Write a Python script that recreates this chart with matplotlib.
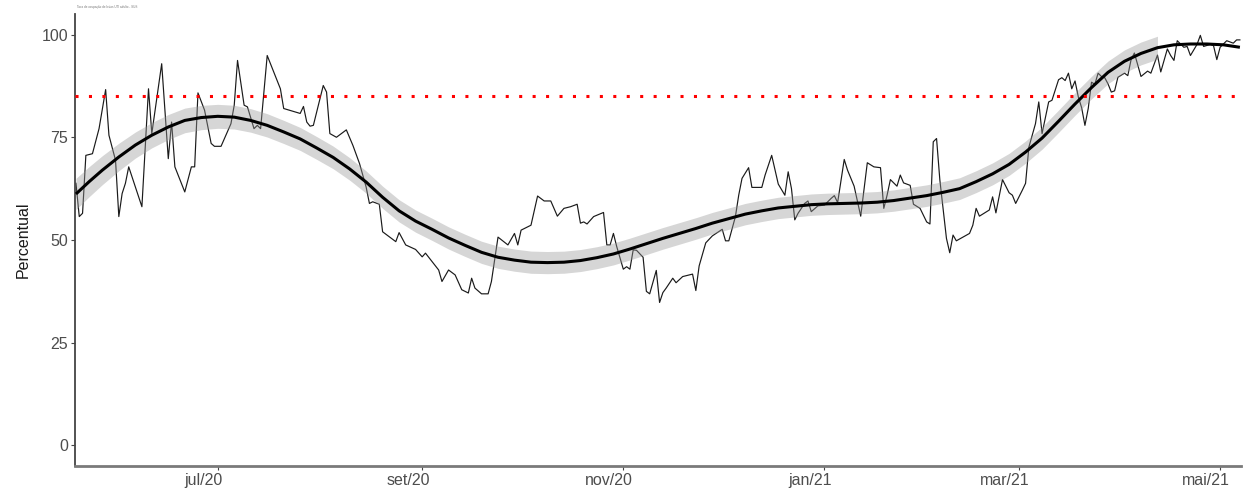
import numpy as np
import matplotlib
matplotlib.use("Agg")
import matplotlib.pyplot as plt
import matplotlib.transforms as mtransforms

# ---- data ----
data_inicio = "2020-05-19"
dia = [0, 1, 2, 3, 5, 7, 9, 10, 12, 13, 14, 15, 16, 20, 22, 23, 26, 28, 29, 30,
       33, 35, 36, 37, 39, 41, 42, 44, 47, 48, 49, 51, 52, 54, 55, 56, 58, 62, 63, 68,
       69, 70, 71, 72, 75, 76, 77, 79, 82, 84, 86, 88, 89, 90, 92, 93, 97, 98, 100, 103,
       105, 106, 110, 111, 113, 115, 117, 119, 120, 121, 123, 125, 126, 128, 131, 133, 134, 135, 138, 140,
       142, 144, 146, 148, 150, 152, 153, 154, 155, 157, 160, 161, 162, 163, 164, 166, 167, 168, 169, 170,
       172, 173, 174, 176, 177, 178, 179, 181, 182, 184, 187, 188, 189, 191, 193, 196, 197, 198, 200, 201,
       202, 204, 205, 208, 209, 211, 213, 215, 216, 217, 218, 219, 220, 221, 222, 223, 225, 227, 229, 230,
       231, 233, 234, 236, 238, 240, 242, 244, 245, 246, 247, 249, 250, 251, 253, 254, 256, 258, 259, 260,
       261, 262, 264, 265, 266, 267, 271, 272, 273, 274, 277, 278, 279, 281, 283, 284, 285, 287, 288, 289,
       291, 292, 293, 295, 296, 298, 299, 300, 301, 302, 303, 304, 305, 306, 307, 308, 309, 310, 311, 312,
       313, 314, 315, 316, 318, 319, 320, 321, 323, 325, 326, 328, 329, 331, 332, 333, 334, 336, 337, 338,
       340, 341, 342, 344, 345, 346, 347, 349, 351, 352, 353]
percentual = [63.8, 55.7, 56.5, 70.6, 71.0, 77.1, 86.6, 75.5, 69.4, 55.7, 61.3, 63.8, 67.8, 58.1, 86.8, 75.9, 92.9, 69.8, 78.7, 67.8,
              61.7, 67.8, 67.8, 85.8, 81.6, 73.5, 72.8, 72.8, 78.3, 82.8, 93.7, 82.8, 82.4, 77.1, 77.9, 77.1, 94.9, 86.8, 82.0, 80.8,
              82.5, 78.7, 77.7, 77.9, 87.6, 86.0, 75.9, 75.0, 76.8, 73.0, 68.6, 62.9, 58.9, 59.3, 58.7, 52.0, 49.6, 51.8, 48.8, 47.7,
              45.9, 46.8, 42.7, 39.9, 42.7, 41.5, 37.9, 37.1, 40.7, 38.3, 36.9, 36.9, 39.9, 50.7, 48.8, 51.6, 48.8, 52.4, 53.6, 60.7,
              59.5, 59.5, 55.8, 57.7, 58.1, 58.7, 54.1, 54.4, 53.9, 55.7, 56.7, 48.8, 48.8, 51.6, 48.4, 42.9, 43.5, 42.9, 47.6, 47.5,
              45.8, 37.5, 36.9, 42.6, 34.8, 37.2, 38.3, 40.7, 39.6, 41.1, 41.7, 37.7, 43.7, 49.3, 51.0, 52.6, 49.8, 49.8, 55.7, 60.9,
              65.0, 67.6, 62.8, 62.8, 65.8, 70.6, 63.6, 60.9, 66.6, 62.5, 54.9, 56.5, 57.7, 58.9, 59.5, 56.9, 58.3, 58.5, 60.1, 60.8,
              59.1, 69.6, 67.0, 63.1, 55.8, 68.8, 67.8, 67.6, 57.7, 60.9, 64.7, 63.1, 65.8, 63.9, 63.3, 58.7, 57.7, 54.4, 53.9, 73.9,
              74.7, 64.6, 50.4, 46.9, 51.2, 49.8, 51.6, 53.6, 57.7, 55.8, 57.3, 60.5, 56.6, 64.7, 61.5, 60.9, 58.9, 62.1, 63.8, 72.6,
              78.3, 83.6, 75.9, 83.6, 84.0, 89.0, 89.5, 88.8, 90.6, 86.8, 88.7, 84.8, 82.2, 77.9, 82.0, 88.4, 87.9, 90.6, 89.8, 89.5,
              88.0, 86.0, 86.3, 89.6, 90.6, 90.0, 93.9, 95.5, 89.8, 91.1, 90.6, 95.0, 90.9, 96.5, 94.9, 93.7, 98.5, 96.9, 97.1, 94.9,
              97.6, 99.8, 97.1, 97.6, 97.3, 93.9, 96.9, 98.5, 97.9, 98.7, 98.7]

# smoothed trend (black curve) and its grey ribbon
tend_dia = [0, 4, 8, 13, 18, 23, 28, 33, 38, 43, 48, 53, 58, 63, 68, 73, 78, 83, 88, 93,
            98, 103, 108, 113, 118, 123, 128, 133, 138, 143, 148, 153, 158, 163, 168, 173, 178, 183, 188, 193,
            198, 203, 208, 213, 218, 223, 228, 233, 238, 243, 248, 253, 258, 263, 268, 273, 278, 283, 288, 293,
            298, 303, 308, 313, 318, 323, 328, 333, 338, 343, 348, 353]
tend_valor = [61.2, 64.2, 67.0, 70.2, 73.1, 75.5, 77.5, 79.1, 79.8, 80.1, 79.9, 79.1, 77.9, 76.3, 74.6, 72.4, 70.1, 67.3, 64.1, 60.4,
              57.1, 54.6, 52.6, 50.5, 48.7, 47.0, 45.8, 45.1, 44.6, 44.5, 44.6, 45.0, 45.7, 46.6, 47.8, 49.1, 50.4, 51.6, 52.8, 54.1,
              55.2, 56.3, 57.1, 57.8, 58.2, 58.6, 58.8, 58.9, 59.0, 59.2, 59.6, 60.2, 60.8, 61.6, 62.5, 64.2, 66.1, 68.4, 71.4, 74.8,
              78.9, 83.1, 87.1, 90.8, 93.5, 95.4, 96.8, 97.5, 97.7, 97.7, 97.5, 96.9]
faixa_dia = [0, 20, 45, 90, 140, 200, 250, 290, 331]
faixa_meia = [3.8, 3.1, 2.9, 2.7, 2.7, 2.6, 2.6, 2.7, 2.8]

meta = 85
y_ticks = [0, 25, 50, 75, 100]
x_ticks = ["2020-07-01", "2020-09-01", "2020-11-01", "2021-01-01", "2021-03-01", "2021-05-01"]
x_tick_labels = ["jul/20", "set/20", "nov/20", "jan/21", "mar/21", "mai/21"]

base = np.datetime64(data_inicio)
datas = base + np.array(dia).astype("timedelta64[D]")
t_dia = np.array(tend_dia)
t_val = np.array(tend_valor)
datas_t = base + t_dia.astype("timedelta64[D]")
m = t_dia <= max(faixa_dia)
meia = np.interp(t_dia[m], faixa_dia, faixa_meia)

plt.rcParams["font.family"] = ["Liberation Sans", "DejaVu Sans"]
fig = plt.figure(figsize=(12.43, 4.96), dpi=100)
ax = fig.add_axes([75 / 1243, 30 / 496, 1166 / 1243, 452 / 496])

ax.plot(datas, percentual, color="#1a1a1a", lw=0.85, zorder=2)
ax.fill_between(datas_t[m], t_val[m] - meia, t_val[m] + meia, color="#999999",
                alpha=0.4, lw=0, zorder=3)
ax.plot(datas_t, t_val, color="black", lw=2.2, zorder=4, solid_capstyle="butt")
ax.axhline(meta, color="red", lw=2.2, linestyle=(0, (1, 3.4)), zorder=5)

ax.set_ylim(-5, 105)
ax.set_xlim(base - np.timedelta64(7, "h"), base + np.timedelta64(353 * 24 + 8, "h"))
ax.set_yticks(y_ticks)
ax.set_yticklabels([str(v) for v in y_ticks])
ax.set_xticks([np.datetime64(t) for t in x_ticks])
ax.set_xticklabels(x_tick_labels)

for s in ["top", "right"]:
    ax.spines[s].set_visible(False)
ax.spines["left"].set_color("#444444")
ax.spines["left"].set_linewidth(1.3)
ax.spines["bottom"].set_color("#7a7a7a")
ax.spines["bottom"].set_linewidth(2.0)

ax.tick_params(axis="both", length=3, width=0.8, color="#444444",
               labelcolor="#4d4d4d", labelsize=11.5, pad=2)

offset = mtransforms.ScaledTranslation(-14 / 100, 0, fig.dpi_scale_trans)
for lab in ax.get_xticklabels():
    lab.set_transform(lab.get_transform() + offset)

ax.set_ylabel("Percentual", fontsize=11.5, color="#1a1a1a", labelpad=8)
ax.set_facecolor("white")

fig.text(77 / 1243, 1 - 7 / 496, "Taxa de ocupação de leitos UTI adulto - SUS",
         fontsize=2.2, color="#777777", va="center", ha="left")

fig.savefig("out.png", dpi=100)
